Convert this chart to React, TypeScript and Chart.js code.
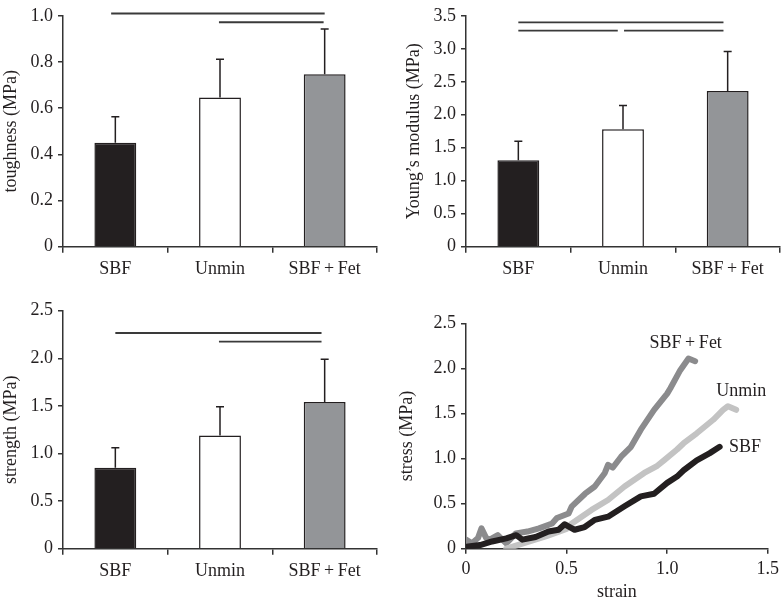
import React, { useEffect, useRef } from 'react';
import { Chart, registerables } from 'chart.js';

Chart.register(...registerables);

// ---------- data ----------
const groups = ['SBF', 'Unmin', 'SBF\u2009+\u2009Fet'];
const barColors = ['#231f20', '#ffffff', '#939598'];

const toughnessMean = [0.45, 0.646, 0.747];
const toughnessErr = [0.113, 0.166, 0.196];
const toughnessTicks = [0, 0.2, 0.4, 0.6, 0.8, 1.0];
const toughnessSigFrom = [-0.04, 0.99];
const toughnessSigTo = [2.0, 1.99];
const toughnessSigLevel = [1.01, 0.972];

const modulusMean = [1.31, 1.78, 2.36];
const modulusErr = [0.29, 0.36, 0.6];
const modulusTicks = [0, 0.5, 1.0, 1.5, 2.0, 2.5, 3.0, 3.5];
const modulusSigFrom = [0.0, 0.0, 1.01];
const modulusSigTo = [1.96, 0.95, 1.96];
const modulusSigLevel = [3.4, 3.275, 3.275];

const strengthMean = [0.85, 1.19, 1.54];
const strengthErr = [0.21, 0.3, 0.45];
const strengthTicks = [0, 0.5, 1.0, 1.5, 2.0, 2.5];
const strengthSigFrom = [0.0, 0.99];
const strengthSigTo = [1.97, 1.97];
const strengthSigLevel = [2.266, 2.175];

const strainTicks = [0, 0.5, 1.0, 1.5];
const stressTicks = [0, 0.5, 1.0, 1.5, 2.0, 2.5];

const fetStrain = [0, 0.03, 0.06, 0.077, 0.1, 0.118, 0.158, 0.2, 0.248, 0.305, 0.363, 0.428, 0.452, 0.51, 0.526, 0.592, 0.64, 0.69, 0.706, 0.73, 0.771, 0.82, 0.869, 0.935, 1.0, 1.016, 1.065, 1.106, 1.139];
const fetStress = [0.1, 0.06, 0.12, 0.226, 0.12, 0.1, 0.15, 0.06, 0.17, 0.19, 0.226, 0.28, 0.34, 0.39, 0.47, 0.61, 0.69, 0.84, 0.93, 0.9, 1.02, 1.13, 1.32, 1.54, 1.72, 1.78, 1.98, 2.11, 2.08];

const unminStrain = [0.2, 0.3, 0.4, 0.5, 0.526, 0.624, 0.706, 0.788, 0.886, 0.951, 0.984, 1.049, 1.082, 1.147, 1.229, 1.278, 1.302, 1.343];
const unminStress = [0.0, 0.07, 0.14, 0.22, 0.28, 0.43, 0.54, 0.69, 0.84, 0.92, 0.98, 1.1, 1.17, 1.28, 1.43, 1.54, 1.58, 1.54];

const sbfStrain = [0, 0.07, 0.13, 0.2, 0.25, 0.28, 0.346, 0.41, 0.46, 0.49, 0.5, 0.54, 0.59, 0.64, 0.706, 0.788, 0.869, 0.935, 1.0, 1.049, 1.082, 1.147, 1.212, 1.261];
const sbfStress = [0.02, 0.04, 0.08, 0.115, 0.15, 0.1, 0.13, 0.19, 0.21, 0.27, 0.26, 0.21, 0.24, 0.32, 0.355, 0.47, 0.58, 0.61, 0.73, 0.8, 0.87, 0.98, 1.06, 1.13];

const curveNames = ['SBF', 'Unmin', 'SBF\u2009+\u2009Fet'];
const curveColors = ['#231f20', '#c3c3c3', '#8b8b8d'];
const curveLabelStrain = [1.387, 1.368, 1.092];
const curveLabelStress = [1.13, 1.75, 2.28];

// ---------- helpers ----------
const INK = '#231f20';
const AXIS = '#333333';
const FONT = { family: 'Liberation Serif', size: 18 };

const fmt = (v: number) => (v === 0 ? '0' : Number(v).toFixed(1));

type Layout = {
  w: number; h: number;
  padLeft: number;
  areaLeft: number; areaRight: number; areaTop: number; areaBottom: number;
};

function layoutOpts(L: Layout) {
  return {
    autoPadding: false,
    padding: { left: L.padLeft, top: L.areaTop, right: L.w - L.areaRight, bottom: 0 },
  };
}

function yAxis(L: Layout, title: string, ticks: number[]) {
  return {
    type: 'linear',
    min: ticks[0],
    max: ticks[ticks.length - 1],
    afterFit: (s: any) => { s.width = L.areaLeft - L.padLeft; },
    afterBuildTicks: (s: any) => { s.ticks = ticks.map((v) => ({ value: v })); },
    grid: { drawOnChartArea: false, drawTicks: true, tickLength: 5, color: AXIS, lineWidth: 1.5 },
    border: { display: true, color: AXIS, width: 1.5 },
    ticks: { color: INK, font: FONT, padding: 5, callback: (v: any) => fmt(v) },
    title: { display: true, text: title, color: INK, font: FONT, padding: { top: 0, bottom: 0 } },
  };
}

function barConfig(L: Layout, title: string, mean: number[], err: number[], ticks: number[],
  sigFrom: number[], sigTo: number[], sigLevel: number[]) {
  const plugin = {
    id: 'errSig',
    afterDatasetsDraw(chart: any) {
      const ctx = chart.ctx;
      const xs = chart.scales.x;
      const ys = chart.scales.y;
      const meta = chart.getDatasetMeta(0);
      ctx.save();
      ctx.strokeStyle = INK;
      ctx.lineWidth = 1.5;
      meta.data.forEach((bar: any, i: number) => {
        const top = ys.getPixelForValue(mean[i] + err[i]);
        ctx.beginPath();
        ctx.moveTo(bar.x, bar.y);
        ctx.lineTo(bar.x, top);
        ctx.moveTo(bar.x - 4, top);
        ctx.lineTo(bar.x + 4, top);
        ctx.stroke();
      });
      const n = groups.length;
      const cw = (xs.right - xs.left) / n;
      ctx.strokeStyle = '#3a3a3a';
      ctx.lineWidth = 1.8;
      for (let k = 0; k < sigLevel.length; k++) {
        const y = ys.getPixelForValue(sigLevel[k]);
        ctx.beginPath();
        ctx.moveTo(xs.left + (sigFrom[k] + 0.5) * cw, y);
        ctx.lineTo(xs.left + (sigTo[k] + 0.5) * cw, y);
        ctx.stroke();
      }
      ctx.restore();
    },
  };
  return {
    type: 'bar',
    data: {
      labels: groups,
      datasets: [{
        data: mean,
        backgroundColor: barColors,
        borderColor: INK,
        borderWidth: 1.5,
        categoryPercentage: 1,
        barPercentage: 0.4,
      }],
    },
    options: {
      responsive: false,
      animation: false,
      layout: layoutOpts(L),
      plugins: { legend: { display: false }, tooltip: { enabled: false } },
      scales: {
        x: {
          type: 'category',
          offset: true,
          afterFit: (s: any) => { s.height = L.h - L.areaBottom; },
          grid: { offset: true, drawOnChartArea: false, drawTicks: true, tickLength: 6, color: AXIS, lineWidth: 1.5 },
          border: { display: true, color: AXIS, width: 1.5 },
          ticks: { color: INK, font: FONT, padding: 6, maxRotation: 0 },
        },
        y: yAxis(L, title, ticks),
      },
    },
    plugins: [plugin],
  };
}

function curveConfig(L: Layout) {
  const zip = (xs: number[], ys: number[]) => xs.map((x, i) => ({ x, y: ys[i] }));
  const series = [zip(sbfStrain, sbfStress), zip(unminStrain, unminStress), zip(fetStrain, fetStress)];
  const labelPlugin = {
    id: 'curveLabels',
    afterDatasetsDraw(chart: any) {
      const ctx = chart.ctx;
      ctx.save();
      ctx.fillStyle = INK;
      ctx.font = `${FONT.size}px ${FONT.family}`;
      ctx.textAlign = 'center';
      ctx.textBaseline = 'middle';
      curveNames.forEach((name, i) => {
        ctx.fillText(name, chart.scales.x.getPixelForValue(curveLabelStrain[i]), chart.scales.y.getPixelForValue(curveLabelStress[i]));
      });
      ctx.restore();
    },
  };
  return {
    type: 'line',
    data: {
      datasets: series.map((d, i) => ({
        data: d,
        borderColor: curveColors[i],
        backgroundColor: curveColors[i],
        borderWidth: 6,
        pointRadius: 0,
        tension: 0,
        borderJoinStyle: 'round',
        borderCapStyle: 'round',
        fill: false,
      })),
    },
    options: {
      responsive: false,
      animation: false,
      layout: layoutOpts(L),
      plugins: { legend: { display: false }, tooltip: { enabled: false } },
      scales: {
        x: {
          type: 'linear',
          min: strainTicks[0],
          max: strainTicks[strainTicks.length - 1],
          afterFit: (s: any) => { s.height = L.h - L.areaBottom; },
          afterBuildTicks: (s: any) => { s.ticks = strainTicks.map((v) => ({ value: v })); },
          grid: { drawOnChartArea: false, drawTicks: true, tickLength: 5, color: AXIS, lineWidth: 1.5 },
          border: { display: true, color: AXIS, width: 1.5 },
          ticks: { color: INK, font: FONT, padding: 5, maxRotation: 0, callback: (v: any) => fmt(v) },
          title: { display: true, text: 'strain', color: INK, font: FONT, padding: { top: 0, bottom: 0 } },
        },
        y: yAxis(L, 'stress (MPa)', stressTicks),
      },
    },
    plugins: [labelPlugin],
  };
}

function Panel({ left, top, L, make }: { left: number; top: number; L: Layout; make: (L: Layout) => any }) {
  const ref = useRef<HTMLCanvasElement | null>(null);
  useEffect(() => {
    if (!ref.current) return;
    const chart = new Chart(ref.current, make(L));
    return () => chart.destroy();
  }, []);
  return (
    <canvas
      ref={ref}
      width={L.w}
      height={L.h}
      style={{ position: 'absolute', left, top, width: L.w, height: L.h }}
    />
  );
}

const L1: Layout = { w: 392, h: 290, padLeft: 0, areaLeft: 63, areaRight: 377, areaTop: 8.3, areaBottom: 246.7 };
const L2: Layout = { w: 392, h: 290, padLeft: 11.7, areaLeft: 74, areaRight: 388, areaTop: 8.3, areaBottom: 246.7 };
const L3: Layout = { w: 392, h: 309, padLeft: 0, areaLeft: 63, areaRight: 377, areaTop: 20.7, areaBottom: 258.7 };
const L4: Layout = { w: 392, h: 313, padLeft: 4.2, areaLeft: 74, areaRight: 380, areaTop: 33.3, areaBottom: 258.7 };

export default function App() {
  return (
    <div style={{ position: 'fixed', left: 0, top: 0, width: 784, height: 599, overflow: 'hidden', background: '#ffffff' }}>
      <Panel left={0} top={0} L={L1} make={(L) => barConfig(L, 'toughness (MPa)', toughnessMean, toughnessErr, toughnessTicks, toughnessSigFrom, toughnessSigTo, toughnessSigLevel)} />
      <Panel left={392} top={0} L={L2} make={(L) => barConfig(L, 'Young\u2019s modulus (MPa)', modulusMean, modulusErr, modulusTicks, modulusSigFrom, modulusSigTo, modulusSigLevel)} />
      <Panel left={0} top={290} L={L3} make={(L) => barConfig(L, 'strength (MPa)', strengthMean, strengthErr, strengthTicks, strengthSigFrom, strengthSigTo, strengthSigLevel)} />
      <Panel left={392} top={290} L={L4} make={(L) => curveConfig(L)} />
    </div>
  );
}
